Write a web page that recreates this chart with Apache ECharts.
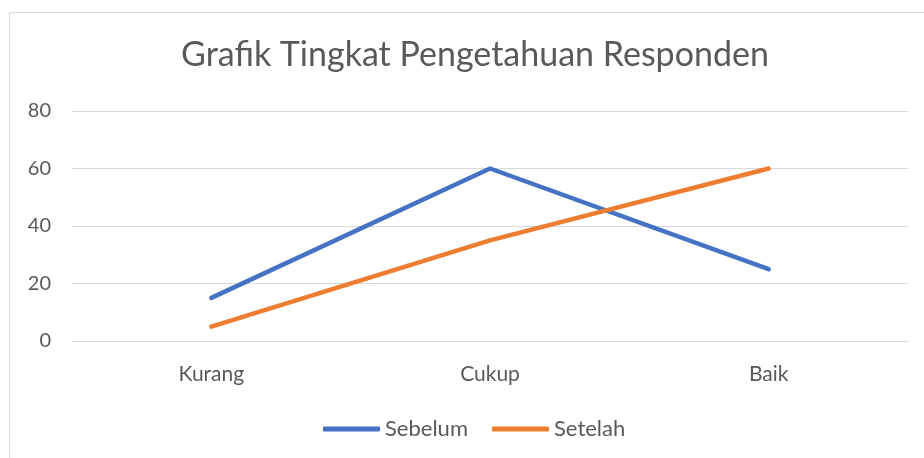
<!DOCTYPE html>
<html>
<head>
<meta charset="utf-8">
<script src="https://cdn.jsdelivr.net/npm/echarts@6/dist/echarts.min.js"></script>
<style>
  html, body { margin: 0; padding: 0; background: #fff; }
  #chart { width: 924px; height: 458px; }
</style>
</head>
<body>
<div id="chart"></div>
<script>
var categories = ['Kurang', 'Cukup', 'Baik'];
var sebelum = [15, 60, 25];
var setelah = [5, 35, 60];
var yTicks = { min: 0, max: 80, interval: 20 };

var myChart = echarts.init(document.getElementById('chart'));
var font = 'Lato, "Open Sans", sans-serif';

var option = {
    backgroundColor: '#fff',
    textStyle: { fontFamily: font },
    // frame of the chart area, only top and left edges visible
    graphic: [{
        type: 'rect',
        shape: { x: 9.5, y: 12.5, width: 1000, height: 1000 },
        style: { fill: 'none', stroke: '#D9D9D9', lineWidth: 1 },
        silent: true
    }],
    title: {
        text: 'Grafik Tingkat Pengetahuan Responden',
        left: 470,
        top: 33,
        textAlign: 'center',
        textStyle: { fontFamily: font, fontSize: 34, fontWeight: 'normal', color: '#595959' }
    },
    legend: {
        left: 318,
        top: 413,
        itemWidth: 57,
        itemHeight: 5,
        itemGap: 24,
        icon: 'roundRect',
        textStyle: { fontFamily: font, fontSize: 22, color: '#595959' },
        data: ['Sebelum', 'Setelah']
    },
    grid: { left: 72, right: 16, top: 111, bottom: 117 },
    xAxis: {
        type: 'category',
        data: categories,
        axisLine: { lineStyle: { color: '#D9D9D9', width: 1 } },
        axisTick: { show: false },
        axisLabel: { color: '#595959', fontSize: 21, margin: 23, fontFamily: font }
    },
    yAxis: {
        type: 'value',
        min: yTicks.min,
        max: yTicks.max,
        interval: yTicks.interval,
        axisLine: { show: false },
        axisTick: { show: false },
        axisLabel: { color: '#595959', fontSize: 20, margin: 21, fontFamily: font },
        splitLine: { lineStyle: { color: '#D9D9D9', width: 1 } }
    },
    series: [
        {
            name: 'Sebelum',
            type: 'line',
            data: sebelum,
            showSymbol: false,
            color: '#4472C4',
            lineStyle: { width: 4.5, cap: 'round', join: 'round' }
        },
        {
            name: 'Setelah',
            type: 'line',
            data: setelah,
            showSymbol: false,
            color: '#ED7D31',
            lineStyle: { width: 4.5, cap: 'round', join: 'round' }
        }
    ],
    animation: false
};

myChart.setOption(option);
</script>
</body>
</html>
